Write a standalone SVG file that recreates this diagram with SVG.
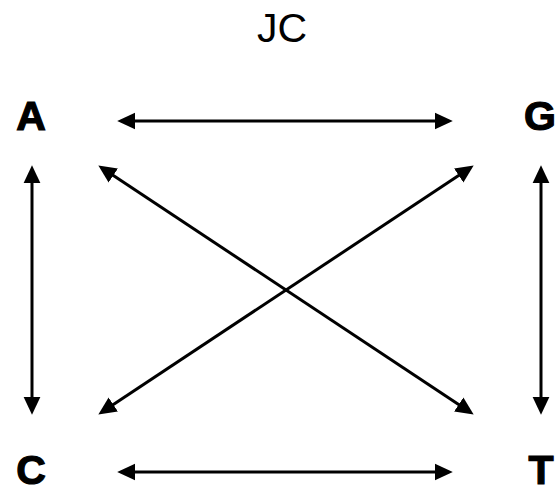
<svg xmlns="http://www.w3.org/2000/svg" width="557" height="489" viewBox="0 0 557 489">
<style>
.lbl{font-family:"Liberation Sans",Arial,sans-serif;font-weight:bold;font-size:41px;fill:#000;stroke:#000;stroke-width:1.2;text-anchor:middle}
.ttl{font-family:"Liberation Sans",Arial,sans-serif;font-size:41px;fill:#000;text-anchor:middle}
.edge{stroke:#000;stroke-width:3;fill:none;marker-start:url(#ah);marker-end:url(#ah)}
</style>
<defs>
<marker id="ah" markerUnits="userSpaceOnUse" markerWidth="20" markerHeight="20" viewBox="0 -9 19 18" refX="2" refY="0" orient="auto-start-reverse">
<path d="M0,-8 L17,0 L0,8 z" fill="#000"/>
</marker>
</defs>
<rect width="557" height="489" fill="#fff"/>
<text class="ttl" x="282" y="42">JC</text>
<g id="node-A"><text class="lbl" x="31" y="130">A</text></g>
<g id="node-G"><text class="lbl" x="540" y="130">G</text></g>
<g id="node-C"><text class="lbl" x="31" y="484">C</text></g>
<g id="node-T"><text class="lbl" x="541" y="484">T</text></g>
<g id="connectors">
<line class="edge" x1="133" y1="121" x2="437" y2="121"/>
<line class="edge" x1="133" y1="472" x2="437" y2="472"/>
<line class="edge" x1="32" y1="181" x2="32" y2="399"/>
<line class="edge" x1="541" y1="181" x2="541" y2="399"/>
<line class="edge" x1="111.5" y1="174.3" x2="460.5" y2="405.7"/>
<line class="edge" x1="111.5" y1="405.7" x2="460.5" y2="174.3"/>
</g>
</svg>
